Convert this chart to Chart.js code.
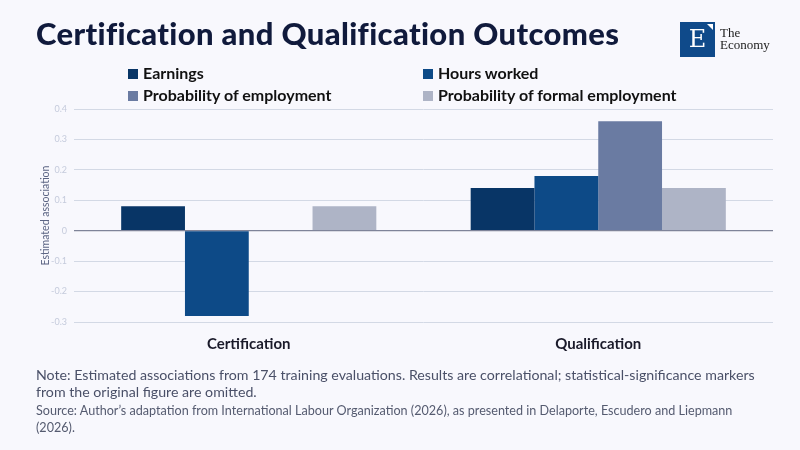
<!DOCTYPE html>
<html lang="en">
<head>
    <meta charset="UTF-8">
    <title>Certification and Qualification Outcomes</title>
    <script src="https://cdn.jsdelivr.net/npm/chart.js"></script>
    <style>
        html, body {
            margin: 0;
            padding: 0;
            width: 800px;
            height: 450px;
            overflow: hidden;
            background-color: #f8f8fd;
            font-family: Lato, "Noto Sans", sans-serif;
        }
        #wrap { position: relative; width: 800px; height: 450px; }
        #chart { position: absolute; left: 0; top: 0; }
        h1 {
            position: absolute;
            left: 36px;
            top: 14px;
            margin: 0;
            font-size: 31px;
            font-weight: 900;
            color: #101a3c;
            letter-spacing: 0.35px;
        }
        .legend {
            position: absolute;
            left: 128px;
            top: 63px;
            display: grid;
            grid-template-columns: 295px 270px;
            row-gap: 3px;
            font-size: 16px;
            font-weight: 700;
            color: #111;
        }
        .legend span.box {
            display: inline-block;
            width: 10px;
            height: 10px;
            margin-right: 5px;
            vertical-align: 0px;
        }
        .logo {
            position: absolute;
            left: 680px;
            top: 22px;
            width: 35px;
            height: 35px;
            background: #0f4a8a;
            color: #fff;
            font-family: "DejaVu Serif", "Liberation Serif", serif;
            font-size: 24px;
            line-height: 35px;
            text-align: center;
        }
        .logo::after {
            content: "";
            position: absolute;
            right: 2px;
            top: 2px;
            border-top: 6px solid #fff;
            border-left: 6px solid transparent;
        }
        .brand {
            position: absolute;
            left: 720px;
            top: 27px;
            font-family: "Liberation Serif", "DejaVu Serif", serif;
            font-size: 13px;
            line-height: 12px;
            color: #222;
        }
        .note {
            position: absolute;
            left: 36px;
            top: 366px;
            font-size: 14.2px;
            line-height: 17px;
            color: #4a5068;
        }
        .source {
            position: absolute;
            left: 36px;
            top: 402px;
            font-size: 12.6px;
            line-height: 17px;
            color: #555b70;
        }
    </style>
</head>
<body>
<div id="wrap">
    <canvas id="chart" width="800" height="450"></canvas>
    <h1>Certification and Qualification Outcomes</h1>
    <div class="logo">E</div>
    <div class="brand">The<br>Economy</div>
    <div class="legend" id="legend"></div>
    <div class="note">Note: Estimated associations from 174 training evaluations. Results are correlational; statistical-significance markers<br>from the original figure are omitted.</div>
    <div class="source">Source: Author’s adaptation from International Labour Organization (2026), as presented in Delaporte, Escudero and Liepmann<br>(2026).</div>
</div>

<script>
    const categories = ['Certification', 'Qualification'];
    const seriesNames = ['Earnings', 'Hours worked', 'Probability of employment', 'Probability of formal employment'];
    const earnings = [0.08, 0.14];
    const hoursWorked = [-0.28, 0.18];
    const probEmployment = [null, 0.36];
    const probFormal = [0.08, 0.14];
    const colors = ['#083566', '#0d4a87', '#6a7ba2', '#aeb4c6'];

    const values = [earnings, hoursWorked, probEmployment, probFormal];

    // html legend, laid out in two columns like the original
    const legendEl = document.getElementById('legend');
    seriesNames.forEach((name, i) => {
        const item = document.createElement('div');
        item.innerHTML = '<span class="box" style="background:' + colors[i] + '"></span>' + name;
        legendEl.appendChild(item);
    });

    Chart.defaults.font.family = 'Lato, "Noto Sans", sans-serif';

    new Chart(document.getElementById('chart'), {
        type: 'bar',
        data: {
            labels: categories,
            datasets: seriesNames.map((name, i) => ({
                label: name,
                data: values[i],
                backgroundColor: colors[i],
                borderWidth: 0,
                categoryPercentage: 0.73,
                barPercentage: 1.0
            }))
        },
        options: {
            responsive: false,
            animation: false,
            layout: { padding: { top: 109, right: 27, bottom: 98, left: 0 } },
            plugins: {
                legend: { display: false },
                tooltip: { enabled: false }
            },
            scales: {
                x: {
                    grid: { display: false, drawTicks: false },
                    border: { display: false },
                    ticks: {
                        padding: 13,
                        color: '#1a1a2a',
                        font: { size: 15, weight: 'bold' }
                    },
                    afterFit: (scale) => { scale.height = 30; }
                },
                y: {
                    min: -0.3,
                    max: 0.4,
                    grid: {
                        drawTicks: false,
                        color: (ctx) => ctx.tick && ctx.tick.value === 0 ? '#7f8499' : '#d3d9e5',
                        lineWidth: (ctx) => ctx.tick && ctx.tick.value === 0 ? 1.2 : 1
                    },
                    border: { display: false },
                    ticks: {
                        stepSize: 0.1,
                        padding: 7,
                        color: '#c5cbdc',
                        font: { size: 9 },
                        callback: (v) => {
                            const r = Math.round(v * 10) / 10;
                            return r === 0 ? '0' : String(r);
                        }
                    },
                    title: {
                        display: true,
                        text: 'Estimated association',
                        color: '#5c6584',
                        font: { size: 10.5 },
                        padding: { top: 39, bottom: 4 }
                    },
                    afterFit: (scale) => { scale.width = 74; }
                }
            }
        }
    });
</script>
</body>
</html>
